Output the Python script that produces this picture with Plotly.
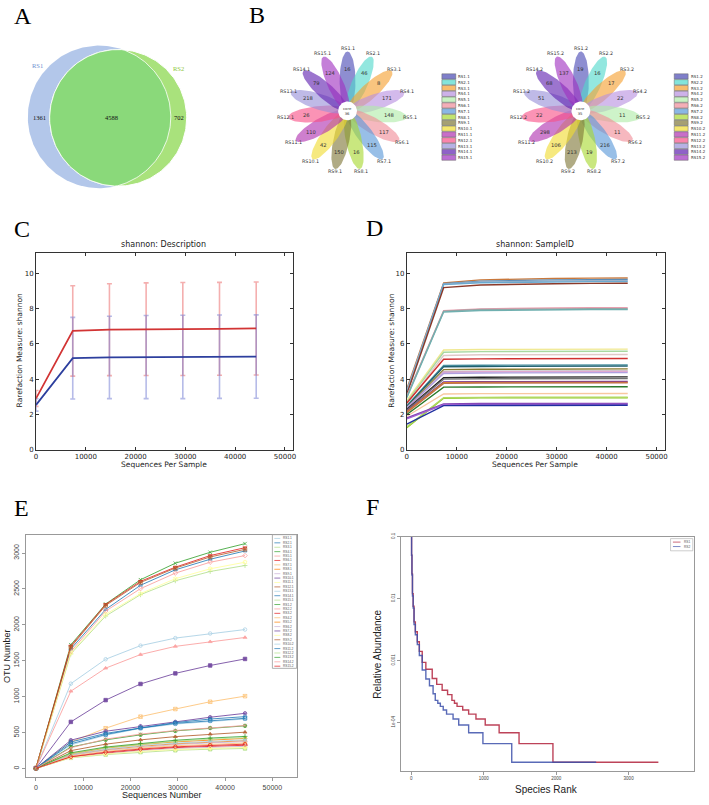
import numpy as np
import plotly.graph_objects as go

W, H = 709, 805

# ---------------- DATA ----------------
venn_sets = ["RS1", "RS2"]
venn_only_rs1 = 1361
venn_shared = 4588
venn_only_rs2 = 702

flower1_labels = ["RS1.1", "RS2.1", "RS3.1", "RS4.1", "RS5.1", "RS6.1", "RS7.1", "RS8.1",
                  "RS9.1", "RS10.1", "RS11.1", "RS12.1", "RS13.1", "RS14.1", "RS15.1"]
flower1_counts = [16, 46, 8, 171, 148, 117, 115, 16, 150, 42, 110, 26, 218, 79, 124]
flower1_core = 36
flower2_labels = ["RS1.2", "RS2.2", "RS3.2", "RS4.2", "RS5.2", "RS6.2", "RS7.2", "RS8.2",
                  "RS9.2", "RS10.2", "RS11.2", "RS12.2", "RS13.2", "RS14.2", "RS15.2"]
flower2_counts = [19, 16, 17, 22, 11, 11, 216, 19, 213, 106, 298, 22, 51, 68, 137]
flower2_core = 35

seq_depth = [0, 7370, 14740, 22110, 29480, 36850, 44220]

c_mean_rs1 = [2.91, 6.73, 6.80, 6.83, 6.84, 6.85, 6.87]
c_sd_rs1 = [0.45, 2.56, 2.60, 2.62, 2.63, 2.63, 2.63]
c_mean_rs2 = [2.54, 5.19, 5.23, 5.25, 5.26, 5.27, 5.28]
c_sd_rs2 = [0.35, 2.31, 2.33, 2.35, 2.36, 2.36, 2.36]

d_shannon = [
    [3.45, 9.45, 9.62, 9.68, 9.70, 9.72, 9.73],
    [3.30, 9.40, 9.55, 9.60, 9.62, 9.63, 9.64],
    [3.35, 9.38, 9.50, 9.54, 9.56, 9.57, 9.58],
    [3.20, 9.35, 9.46, 9.49, 9.51, 9.52, 9.52],
    [3.15, 9.18, 9.33, 9.38, 9.40, 9.42, 9.43],
    [3.05, 7.88, 7.98, 8.02, 8.03, 8.04, 8.05],
    [3.00, 7.85, 7.94, 7.97, 7.98, 7.99, 7.99],
    [2.95, 7.80, 7.89, 7.92, 7.93, 7.94, 7.94],
    [2.80, 5.65, 5.68, 5.69, 5.70, 5.70, 5.70],
    [2.70, 5.52, 5.56, 5.57, 5.58, 5.58, 5.58],
    [2.60, 5.34, 5.38, 5.39, 5.40, 5.40, 5.40],
    [2.65, 5.13, 5.15, 5.16, 5.17, 5.17, 5.17],
    [2.50, 4.78, 4.79, 4.80, 4.80, 4.80, 4.80],
    [2.45, 4.70, 4.72, 4.73, 4.74, 4.74, 4.74],
    [2.40, 4.54, 4.56, 4.57, 4.58, 4.58, 4.58],
    [2.35, 4.42, 4.45, 4.46, 4.47, 4.47, 4.47],
    [2.30, 4.39, 4.42, 4.43, 4.44, 4.44, 4.44],
    [2.40, 4.32, 4.35, 4.36, 4.37, 4.37, 4.37],
    [2.30, 4.08, 4.11, 4.12, 4.13, 4.13, 4.13],
    [2.25, 4.00, 4.02, 4.03, 4.03, 4.03, 4.03],
    [2.20, 3.84, 3.86, 3.87, 3.87, 3.87, 3.87],
    [2.15, 3.80, 3.82, 3.82, 3.82, 3.82, 3.82],
    [2.10, 3.76, 3.78, 3.79, 3.79, 3.79, 3.79],
    [2.00, 3.55, 3.56, 3.57, 3.57, 3.57, 3.57],
    [1.90, 3.16, 3.18, 3.19, 3.19, 3.19, 3.19],
    [1.25, 2.92, 2.94, 2.95, 2.95, 2.95, 2.95],
    [1.30, 2.95, 2.97, 2.98, 2.98, 2.98, 2.98],
    [1.80, 2.60, 2.62, 2.63, 2.63, 2.63, 2.63],
    [1.75, 2.55, 2.57, 2.58, 2.58, 2.58, 2.58],
    [1.45, 2.50, 2.51, 2.52, 2.52, 2.52, 2.52],
]

e_samples = flower1_labels + flower2_labels
e_otus = {
    "RS1.1": [6, 1182, 1522, 1711, 1816, 1880, 1935],
    "RS2.1": [8, 1664, 2215, 2551, 2766, 2913, 3028],
    "RS3.1": [7, 1597, 2123, 2420, 2614, 2743, 2826],
    "RS4.1": [12, 1724, 2290, 2628, 2858, 3010, 3130],
    "RS5.1": [9, 1628, 2192, 2504, 2720, 2872, 2964],
    "RS6.1": [10, 1705, 2284, 2606, 2803, 2964, 3074],
    "RS7.1": [5, 370, 562, 723, 829, 930, 1008],
    "RS8.1": [4, 195, 262, 310, 345, 370, 388],
    "RS9.1": [4, 185, 255, 300, 335, 358, 375],
    "RS10.1": [5, 395, 520, 590, 650, 715, 769],
    "RS11.1": [8, 1610, 2146, 2435, 2642, 2780, 2872],
    "RS12.1": [10, 1690, 2270, 2590, 2790, 2945, 3051],
    "RS13.1": [5, 330, 465, 560, 620, 660, 691],
    "RS14.1": [5, 345, 475, 565, 630, 670, 700],
    "RS15.1": [3, 150, 195, 230, 255, 270, 280],
    "RS1.2": [4, 300, 400, 470, 525, 565, 595],
    "RS2.2": [6, 1077, 1398, 1587, 1701, 1766, 1825],
    "RS3.2": [3, 160, 215, 260, 292, 312, 325],
    "RS4.2": [3, 175, 240, 285, 318, 340, 356],
    "RS5.2": [4, 205, 285, 335, 372, 400, 420],
    "RS6.2": [3, 155, 207, 250, 280, 298, 310],
    "RS7.2": [5, 650, 953, 1178, 1325, 1435, 1526],
    "RS8.2": [3, 152, 203, 240, 266, 284, 295],
    "RS9.2": [4, 250, 340, 400, 445, 480, 507],
    "RS10.2": [4, 195, 270, 320, 355, 382, 400],
    "RS11.2": [5, 370, 490, 570, 640, 690, 723],
    "RS12.2": [4, 210, 290, 340, 380, 410, 430],
    "RS13.2": [4, 220, 300, 350, 395, 425, 448],
    "RS14.2": [4, 290, 410, 480, 530, 570, 600],
    "RS15.2": [3, 165, 228, 272, 303, 325, 340],
}

f_groups = ["RS1", "RS2"]
f_rank_rs1 = [1, 3, 8, 15, 25, 37, 55, 82, 110, 150, 200, 288, 350, 425, 500, 560, 595,
              631, 709, 791, 892, 1020, 1212, 1487, 1955, 3411]
f_abund_rs1 = [0.15, 0.05, 0.025, 0.012, 0.0075, 0.0042, 0.0029, 0.0020, 0.0014, 0.00093,
               0.00072, 0.00051, 0.00041, 0.00033, 0.00028, 2.2614e-4, 2.0353e-4, 1.8091e-4,
               1.583e-4, 1.3569e-4, 1.1307e-4, 9.046e-5, 6.784e-5, 4.523e-5, 2.2614e-5, 2.2614e-5]
f_rank_rs2 = [1, 3, 8, 15, 25, 37, 55, 82, 110, 150, 200, 250, 300, 330, 365, 400, 440, 486,
              576, 654, 791, 988, 1386, 2552]
f_abund_rs2 = [0.15, 0.05, 0.024, 0.011, 0.007, 0.0038, 0.0026, 0.0018, 0.0012, 0.00070,
               0.00050, 0.00039, 0.00029, 2.2614e-4, 2.0353e-4, 1.8091e-4, 1.583e-4, 1.3569e-4,
               1.1307e-4, 9.046e-5, 6.784e-5, 4.523e-5, 2.2614e-5, 2.2614e-5]

# ---------------- STYLE ----------------
petal_colors = ["#4848b4", "#50d8cc", "#f5a030", "#b890e0", "#b0eca8", "#f08c98", "#5898d8",
                "#a8d830", "#807838", "#f0dc30", "#b030b0", "#f85088", "#9890d8", "#6020b0", "#a030c0"]
d_colors = ["#c8783c", "#5b8db8", "#9ab0c8", "#6aaad0", "#8b3a2a", "#e8a0b0", "#a0a0a0", "#70b0b0",
            "#f0e890", "#a8d8a0", "#e0c8c8", "#d03030", "#4a90a0", "#1f5f6f", "#8a7a30", "#b8b8b8",
            "#e0a8d0", "#b0a0e0", "#202020", "#707070", "#7030a0", "#e08a20", "#c07050", "#2a7a2a",
            "#f8c8a0", "#8cc820", "#b0d860", "#8040b0", "#a060d0", "#2030a0"]
paired = ["#A6CEE3", "#1F78B4", "#B2DF8A", "#33A02C", "#FB9A99", "#E31A1C", "#FDBF6F", "#FF7F00",
          "#CAB2D6", "#6A3D9A", "#FFFF99", "#B15928"]
symbols = ["circle-open", "triangle-up-open", "cross-thin", "x-thin", "diamond-open",
           "triangle-down-open", "square-x-open", "asterisk", "diamond-cross-open",
           "circle-cross-open", "hexagram-open", "square-cross-open", "circle-x-open",
           "square-open", "square", "circle", "triangle-up", "diamond", "circle", "circle",
           "circle", "square", "diamond", "triangle-up", "triangle-down"]


def rgba(hexc, a):
    h = hexc.lstrip("#")
    return "rgba(%d,%d,%d,%.3f)" % (int(h[0:2], 16), int(h[2:4], 16), int(h[4:6], 16), a)


def dom_x(a, b):
    return [a / W, b / W]


def dom_y(top, bottom):
    return [1 - bottom / H, 1 - top / H]


fig = go.Figure()


def ctext(x, y, text, size, color="#000", family="DejaVu Sans", xanchor="center", angle=0):
    fig.add_annotation(x=x, y=y, xref="x", yref="y", text=text, showarrow=False,
                       font=dict(size=size, color=color, family=family), borderpad=0,
                       xanchor=xanchor, yanchor="middle", textangle=angle)


def poly(xs, ys, fill, line_color=None, line_width=0):
    fig.add_trace(go.Scatter(x=list(xs) + [xs[0]], y=list(ys) + [ys[0]], mode="lines",
                             fill="toself", fillcolor=fill,
                             line=dict(color=line_color or fill, width=line_width),
                             hoverinfo="skip", showlegend=False, xaxis="x", yaxis="y"))


# ---------------- Panel letters ----------------
for lab, (lx, ly) in zip("ABCDEF", [(21, 12), (257, 11), (20, 227), (375, 226), (20, 509), (373, 508)]):
    ctext(lx, ly, lab, 24, "#000", "Liberation Serif")

# ---------------- A: Venn ----------------
bx, by, br = 98, 114, 72
gx, gy, gr = 117, 115, 69
t = np.linspace(0, 2 * np.pi, 240, endpoint=False)
bxs, bys = bx + br * np.cos(t), by + br * np.sin(t)
gxs, gys = gx + gr * np.cos(t), gy + gr * np.sin(t)
poly(bxs, bys, "#b3c7ea")
poly(gxs, gys, "#a9e27c", "white", 1)
in_b = (gxs - bx) ** 2 + (gys - by) ** 2 <= br ** 2
in_g = (bxs - gx) ** 2 + (bys - gy) ** 2 <= gr ** 2
ix = np.concatenate([gxs[in_b], bxs[in_g]])
iy = np.concatenate([gys[in_b], bys[in_g]])
order = np.argsort(np.arctan2(iy - iy.mean(), ix - ix.mean()))
poly(ix[order], iy[order], "#8ad97a", "white", 0.8)
ctext(36, 62, venn_sets[0], 6.5, "#6f8fd0", "Liberation Serif")
ctext(178, 65, venn_sets[1], 6.5, "#8cc83c", "Liberation Serif")
ctext(38, 115, str(venn_only_rs1), 6.5, "#111", "Liberation Serif")
ctext(110, 115, str(venn_shared), 6.5, "#111", "Liberation Serif")
ctext(178, 115, str(venn_only_rs2), 6.5, "#111", "Liberation Serif")


# ---------------- B: Flowers ----------------
def flower(cx, cy, labels, counts, core, leg_x):
    tt = np.linspace(0, 2 * np.pi, 80, endpoint=False)
    for i, (lab, cnt) in enumerate(zip(labels, counts)):
        th = np.radians(90 - 24 * i)
        ex = 30 + 30 * np.cos(tt)
        ey = 8 * np.sin(tt)
        X = cx + ex * np.cos(th) - ey * np.sin(th)
        Y = cy - (ex * np.sin(th) + ey * np.cos(th))
        poly(X, Y, rgba(petal_colors[i], 0.62))
    for i, (lab, cnt) in enumerate(zip(labels, counts)):
        th = np.radians(90 - 24 * i)
        ctext(cx + 42 * np.cos(th), cy - 42 * np.sin(th), str(cnt), 5.2, "#333")
        ctext(cx + 63 * np.cos(th), cy - 63 * np.sin(th), lab, 4.8, "#333")
    tc = np.linspace(0, 2 * np.pi, 60, endpoint=False)
    poly(cx + 9.5 * np.cos(tc), cy + 9.5 * np.sin(tc), "white")
    ctext(cx, cy, "core<br>%d" % core, 3.8, "#333")
    for i, lab in enumerate(labels):
        y0 = 70.5 + i * 5.86
        fig.add_shape(type="rect", xref="x", yref="y", x0=leg_x, x1=leg_x + 14, y0=y0, y1=y0 + 5.3,
                      fillcolor=rgba(petal_colors[i], 0.7), line=dict(color="#666", width=0.5))
        ctext(leg_x + 15.5, y0 + 2.7, lab, 4.0, "#333", xanchor="left")


flower(348, 108, flower1_labels, flower1_counts, flower1_core, 443)
flower(583, 108, flower2_labels, flower2_counts, flower2_core, 677)

# ---------------- C ----------------
mpl_axis = dict(showline=True, linecolor="#333", linewidth=1, mirror="ticks", ticks="inside",
                ticklen=3, tickcolor="#333", tickfont=dict(family="DejaVu Sans", size=7, color="#222"),
                showgrid=False, zeroline=False, fixedrange=True)
xticks = [0, 10000, 20000, 30000, 40000, 50000]
yticks = [0, 2, 4, 6, 8, 10]

fig.add_trace(go.Scatter(x=seq_depth, y=c_mean_rs1, mode="markers", marker=dict(size=1, color="rgba(0,0,0,0)"),
                         error_y=dict(type="data", array=c_sd_rs1, color="rgba(235,110,110,0.55)", thickness=1.6, width=2.5),
                         xaxis="x2", yaxis="y2", hoverinfo="skip", showlegend=False))
fig.add_trace(go.Scatter(x=seq_depth, y=c_mean_rs2, mode="markers", marker=dict(size=1, color="rgba(0,0,0,0)"),
                         error_y=dict(type="data", array=c_sd_rs2, color="rgba(110,120,210,0.5)", thickness=1.6, width=2.5),
                         xaxis="x2", yaxis="y2", hoverinfo="skip", showlegend=False))
fig.add_trace(go.Scatter(x=seq_depth, y=c_mean_rs1, mode="lines", line=dict(color="#d23434", width=1.8),
                         xaxis="x2", yaxis="y2", name="RS1", showlegend=False))
fig.add_trace(go.Scatter(x=seq_depth, y=c_mean_rs2, mode="lines", line=dict(color="#2d3f9e", width=1.8),
                         xaxis="x2", yaxis="y2", name="RS2", showlegend=False))

ctext(163, 243, "shannon: Description", 8, "#222")
ctext(163, 465, "Sequences Per Sample", 7.5, "#222")
ctext(18, 350, "Rarefaction Measure: shannon", 7.5, "#222", angle=-90)

# ---------------- D ----------------
for vals, col in zip(d_shannon, d_colors):
    fig.add_trace(go.Scatter(x=seq_depth, y=vals, mode="lines", line=dict(color=col, width=1.4),
                             xaxis="x3", yaxis="y3", hoverinfo="skip", showlegend=False))
ctext(537, 243, "shannon: SampleID", 8, "#222")
ctext(537, 465, "Sequences Per Sample", 7.5, "#222")
ctext(392, 350, "Rarefaction Measure: shannon", 7.5, "#222", angle=-90)

# ---------------- E ----------------
for i, s in enumerate(e_samples):
    col = paired[i % 12]
    sym = symbols[i % len(symbols)]
    fig.add_trace(go.Scatter(x=seq_depth, y=e_otus[s], mode="lines+markers", name=s,
                             line=dict(color=col, width=0.9),
                             marker=dict(symbol=sym, size=3.5, color=col, line=dict(color=col, width=0.8)),
                             opacity=0.9, xaxis="x4", yaxis="y4", showlegend=False))
# legend box
fig.add_shape(type="rect", xref="x", yref="y", x0=272.3, x1=296.7, y0=536, y1=671,
              line=dict(color="#999", width=0.8), fillcolor="white")
for i, s in enumerate(e_samples):
    col = paired[i % 12]
    yy = 539.8 + i * 4.45
    fig.add_shape(type="line", xref="x", yref="y", x0=274.3, x1=280.3, y0=yy, y1=yy,
                  line=dict(color=col, width=0.7))
    fig.add_trace(go.Scatter(x=[277.3], y=[yy], mode="markers",
                             marker=dict(symbol=symbols[i % len(symbols)], size=2.2, color=col,
                                         line=dict(color=col, width=0.5)),
                             xaxis="x", yaxis="y", hoverinfo="skip", showlegend=False))
    ctext(282, yy, s, 3.2, "#555", "Liberation Sans", xanchor="left")
ctext(161, 799, "Sequences Number", 9, "#222", "Liberation Sans")
ctext(5.5, 658, "OTU Number", 9, "#222", "Liberation Sans", angle=-90)

# ---------------- F ----------------
fig.add_trace(go.Scatter(x=f_rank_rs1, y=f_abund_rs1, mode="lines", line=dict(color="rgba(178,34,60,0.85)", width=1.4, shape="hv"),
                         xaxis="x5", yaxis="y5", name=f_groups[0], showlegend=False))
fig.add_trace(go.Scatter(x=f_rank_rs2, y=f_abund_rs2, mode="lines", line=dict(color="rgba(60,80,170,0.85)", width=1.4, shape="hv"),
                         xaxis="x5", yaxis="y5", name=f_groups[1], showlegend=False))
fig.add_shape(type="rect", xref="x", yref="y", x0=673.3, x1=695.7, y0=540, y1=552.3,
              line=dict(color="#aaa", width=0.6), fillcolor="white")
for k, (g, col) in enumerate(zip(f_groups, ["rgba(178,34,60,0.85)", "rgba(60,80,170,0.85)"])):
    yy = 543.5 + k * 4.5
    fig.add_shape(type="line", xref="x", yref="y", x0=675.7, x1=683.3, y0=yy, y1=yy, line=dict(color=col, width=0.8))
    ctext(686, yy, g, 3.2, "#555", "Liberation Sans", xanchor="left")
ctext(548, 793, "Species Rank", 10, "#222", "Liberation Sans")
ctext(378, 657, "Relative Abundance", 10, "#222", "Liberation Sans", angle=-90)

# ---------------- Layout ----------------
r_axis = dict(showline=True, linecolor="#999", linewidth=1, mirror=True, ticks="outside", ticklen=3,
              tickcolor="#999", showgrid=False, zeroline=False, fixedrange=True)

fig.update_layout(
    width=W, height=H, margin=dict(l=0, r=0, t=0, b=0), showlegend=False,
    paper_bgcolor="white", plot_bgcolor="rgba(0,0,0,0)", hovermode=False,
    xaxis=dict(domain=[0, 1], range=[0, W], visible=False, fixedrange=True),
    yaxis=dict(domain=[0, 1], range=[H, 0], visible=False, fixedrange=True),
    xaxis2=dict(mpl_axis, domain=dom_x(34.3, 293), range=[0, 51600], tickvals=xticks, tickformat="d", anchor="y2"),
    yaxis2=dict(mpl_axis, domain=dom_y(251, 450.3), range=[0, 11.17], tickvals=yticks, anchor="x2"),
    xaxis3=dict(mpl_axis, domain=dom_x(407.7, 667.3), range=[0, 51600], tickvals=xticks, tickformat="d", anchor="y3"),
    yaxis3=dict(mpl_axis, domain=dom_y(251, 450.3), range=[0, 11.17], tickvals=yticks, anchor="x3"),
    xaxis4=dict(r_axis, domain=dom_x(24, 297), range=[-2150, 55200], tickvals=xticks, tickformat="d", anchor="y4",
                tickfont=dict(family="Liberation Sans", size=7, color="#444")),
    yaxis4=dict(r_axis, domain=dom_y(536, 781), range=[-120, 3255], tickvals=[0, 500, 1000, 1500, 2000, 2500, 3000],
                tickformat="d", tickangle=-90, anchor="x4", tickfont=dict(family="Liberation Sans", size=7, color="#444")),
    xaxis5=dict(r_axis, domain=dom_x(401.7, 696.7), range=[-145, 3900], tickvals=[0, 1000, 2000, 3000], tickformat="d",
                anchor="y5", tickfont=dict(family="Liberation Sans", size=4.5, color="#444")),
    yaxis5=dict(r_axis, type="log", domain=dom_y(538, 774.3), range=[-4.78, -1.0],
                tickvals=[0.1, 0.01, 0.001, 0.0001], ticktext=["0.1", "0.01", "0.001", "1e-04"],
                tickangle=-90, anchor="x5", tickfont=dict(family="Liberation Sans", size=4.5, color="#444")),
)

fig.write_html("out.html", config={"displayModeBar": False, "staticPlot": True},
               post_script="document.body.style.margin='0px';document.body.style.overflow='hidden';")
